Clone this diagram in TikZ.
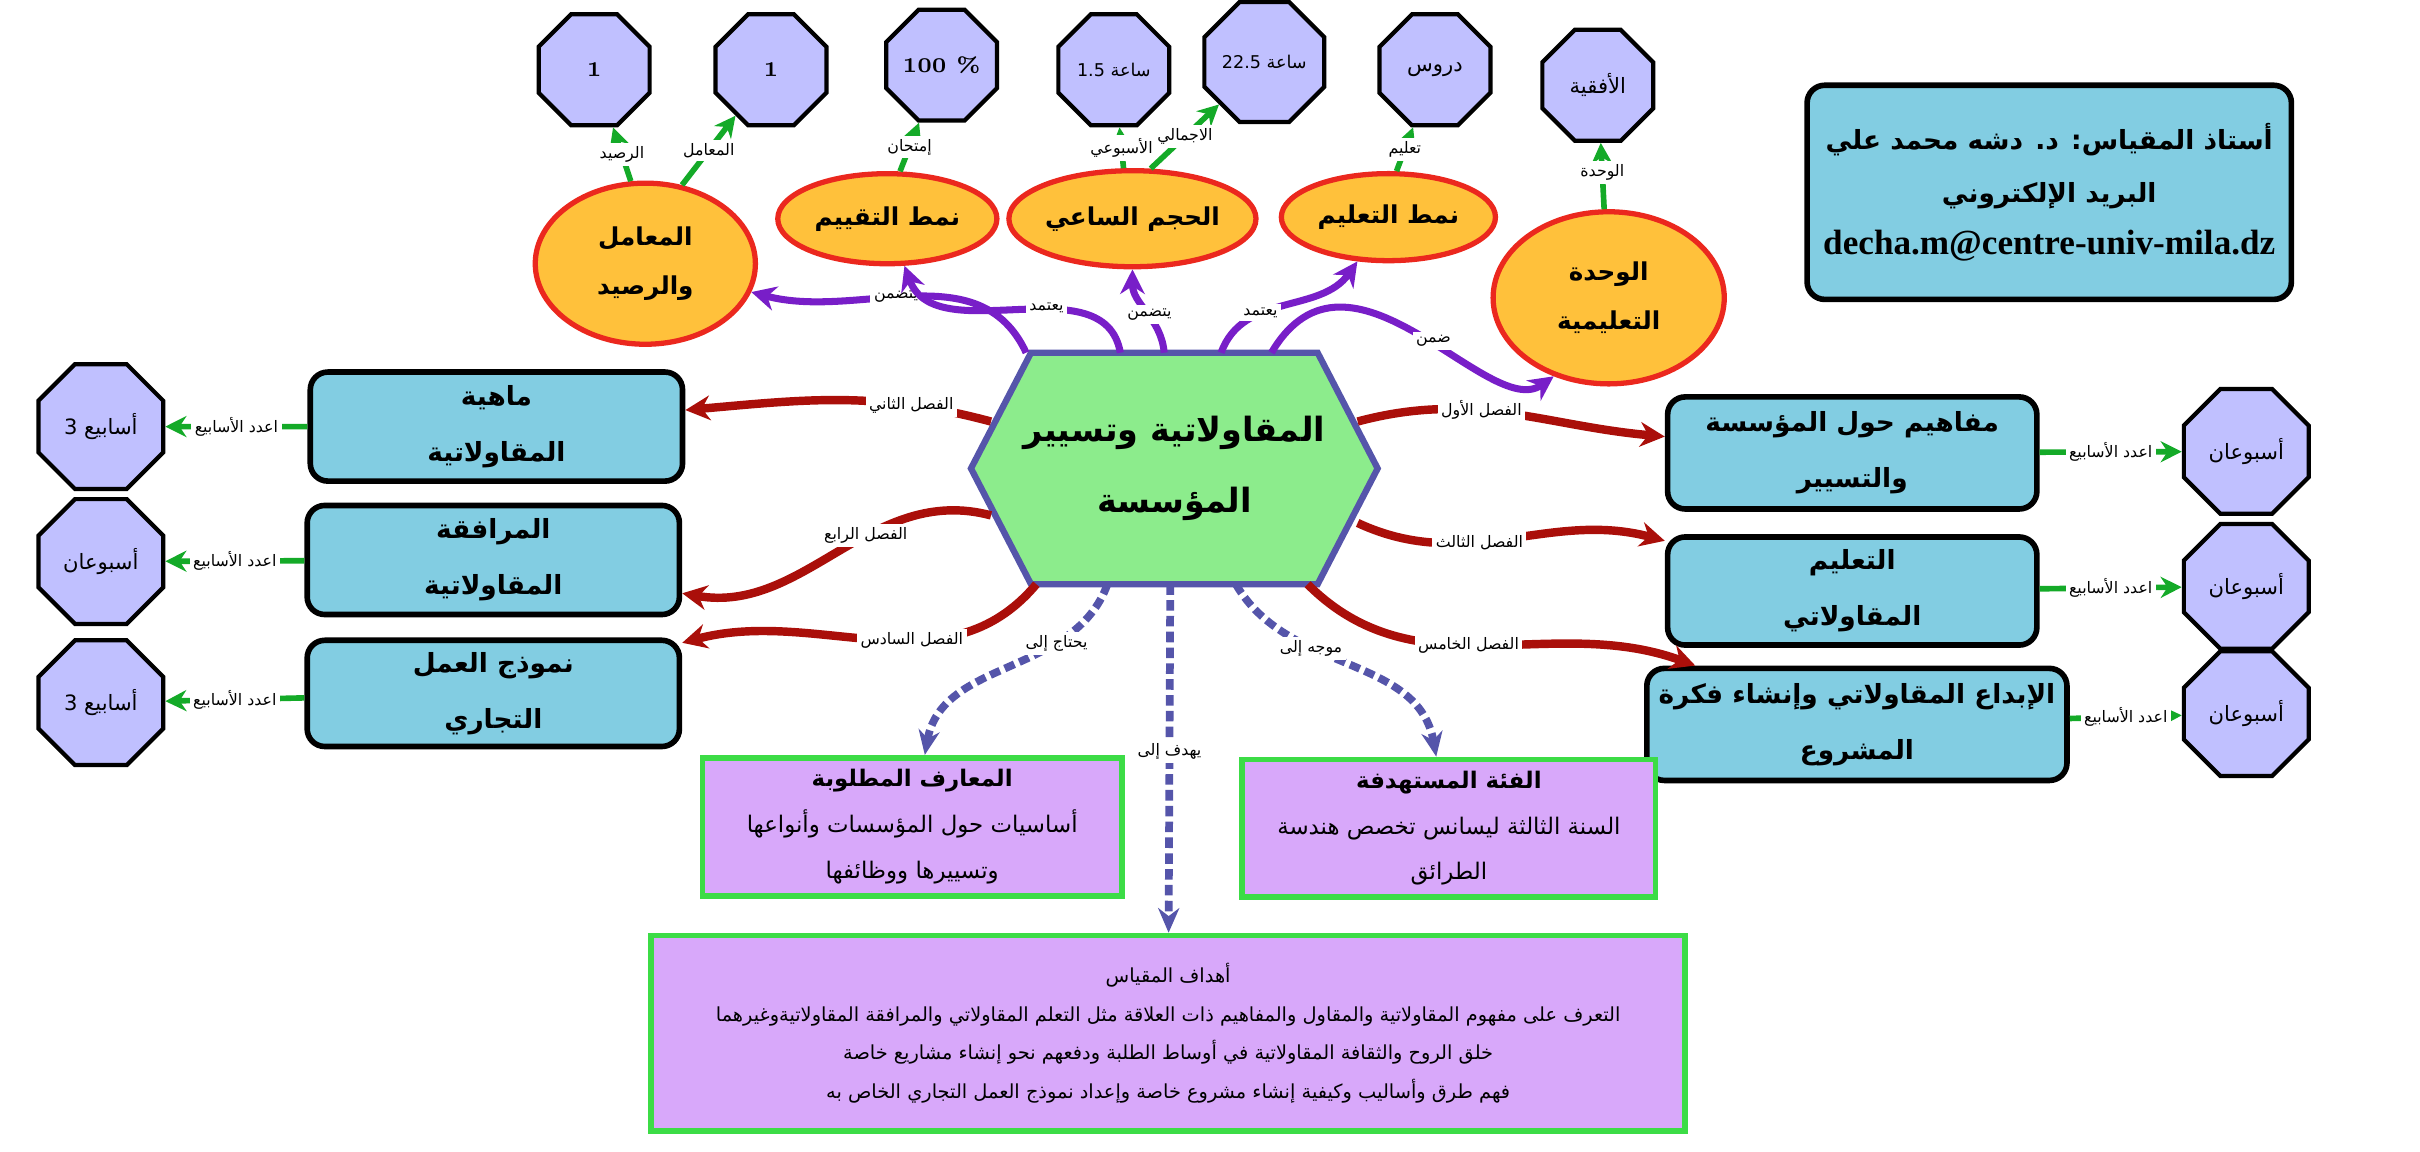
\documentclass[tikz,border=0pt]{standalone}
\usepackage{fontspec}
\usetikzlibrary{arrows.meta,shapes.geometric,backgrounds}
\newfontfamily\arabicfont[Script=Arabic]{DejaVu Sans}
\newfontfamily\mailfont{Liberation Serif}
\TeXXeTstate=1
\newcommand{\ar}[1]{{\arabicfont\beginR #1\endR}}
\definecolor{skybox}{RGB}{130,205,226}
\definecolor{octfill}{RGB}{192,192,255}
\definecolor{ellfill}{RGB}{255,193,59}
\definecolor{ellline}{RGB}{235,40,30}
\definecolor{hexfill}{RGB}{140,236,140}
\definecolor{hexline}{RGB}{85,85,170}
\definecolor{purfill}{RGB}{216,168,250}
\definecolor{purline}{RGB}{60,220,70}
\definecolor{arrowred}{RGB}{170,15,10}
\definecolor{arrowviolet}{RGB}{120,30,200}
\definecolor{arrowgreen}{RGB}{20,170,40}

\begin{document}
\begin{tikzpicture}[x=0.01551cm,y=0.01551cm,
        oct/.style={regular polygon,regular polygon sides=8,draw=black,line width=1.2pt,fill=octfill,inner sep=0pt,font=\fontsize{6}{8}\selectfont},
        ell/.style={ellipse,draw=ellline,line width=1.5pt,fill=ellfill,align=center,inner sep=0pt,font=\fontsize{7}{14}\selectfont\bfseries},
        chap/.style={rectangle,rounded corners=5pt,draw=black,line width=1.6pt,fill=skybox,align=center,font=\fontsize{7.5}{16}\selectfont\bfseries},
        goal/.style={rectangle,draw=purline,line width=1.6pt,fill=purfill,align=center,font=\fontsize{6.5}{13}\selectfont},
        lbl/.style={fill=white,text=black,inner sep=1pt,font=\fontsize{4.5}{5}\selectfont},
        red arrow/.style={-{Stealth[length=7pt,width=7pt]},line width=2.4pt,arrowred},
        violet arrow/.style={-{Stealth[length=7pt,width=7pt]},line width=2pt,arrowviolet},
        green arrow/.style={-{Stealth[length=6pt,width=6pt]},line width=1.6pt,arrowgreen},
        blue arrow/.style={-{Stealth[length=7pt,width=6pt]},line width=2.2pt,hexline,dashed,dash pattern=on 3pt off 1.5pt}]

    \useasboundingbox (0,0) rectangle (1560,742);

    % centre
    \node[minimum width=4.05cm,minimum height=2.3cm,align=center,font=\fontsize{9.5}{20}\selectfont\bfseries] (core) at (757,440)
          {\ar{المقاولاتية وتسيير}\\\ar{المؤسسة}};
    \begin{scope}[on background layer]
    \draw[fill=hexfill,draw=hexline,line width=1.8pt] (core.west) -- ([xshift=0.6cm]core.north west) -- ([xshift=-0.6cm]core.north east)
        -- (core.east) -- ([xshift=-0.6cm]core.south east) -- ([xshift=0.6cm]core.south west) -- cycle;
    \end{scope}

    % top
    \node[ell,minimum width=2.2cm,minimum height=1.61cm] (M) at (416,572) {\ar{المعامل}\\\ar{والرصيد}};
    \node[ell,minimum width=2.19cm,minimum height=0.9cm] (T) at (572,601) {\ar{نمط التقييم}};
    \node[ell,minimum width=1.95cm,minimum height=0.96cm] (H) at (730,601) {\ar{الحجم الساعي}};
    \node[ell,minimum width=2.14cm,minimum height=0.87cm] (E) at (895,602) {\ar{نمط التعليم}};
    \node[ell,minimum width=2.31cm,minimum height=1.72cm] (W) at (1037,550) {\ar{الوحدة}\\\ar{التعليمية}};

    \node[oct,minimum size=1.2cm] (o1) at (383,697) {\textbf{1}};
    \node[oct,minimum size=1.2cm] (o2) at (497,697) {\textbf{1}};
    \node[oct,minimum size=1.2cm] (o3) at (607,700) {\textbf{100 \%}};
    \node[oct,minimum size=1.2cm,font=\fontsize{5}{6}\selectfont] (o4) at (718,697) {\ar{ساعة \beginL 1.5\endL}};
    \node[oct,minimum size=1.2cm,font=\fontsize{5}{6}\selectfont] (o5) at (815,702) {\ar{ساعة \beginL 22.5\endL}};
    \node[oct,minimum size=1.2cm] (o6) at (925,697) {\ar{دروس}};
    \node[oct,minimum size=1.2cm] (o7) at (1030,687) {\ar{الأفقية}};

    % sides
    \node[chap,minimum width=3.72cm,minimum height=1.09cm] (L1) at (320,467) {\ar{ماهية}\\\ar{المقاولاتية}};
    \node[chap,minimum width=3.72cm,minimum height=1.09cm] (L2) at (318,381) {\ar{المرافقة}\\\ar{المقاولاتية}};
    \node[chap,minimum width=3.72cm,minimum height=1.05cm] (L3) at (318,295) {\ar{نموذج العمل}\\\ar{التجاري}};
    \node[chap,minimum width=3.69cm,minimum height=1.12cm] (R1) at (1194,450) {\ar{مفاهيم حول المؤسسة}\\\ar{والتسيير}};
    \node[chap,minimum width=3.69cm,minimum height=1.08cm] (R2) at (1194,361) {\ar{التعليم}\\\ar{المقاولاتي}};
    \node[chap,minimum width=3.69cm,minimum height=1.12cm] (R3) at (1197,275) {\ar{الإبداع المقاولاتي وإنشاء فكرة}\\\ar{المشروع}};

    \node[oct,minimum size=1.35cm] (p1) at (65,467) {\ar{أسابيع 3}};
    \node[oct,minimum size=1.35cm] (p2) at (65,380) {\ar{أسبوعان}};
    \node[oct,minimum size=1.35cm] (p3) at (65,289) {\ar{أسابيع 3}};
    \node[oct,minimum size=1.35cm] (q1) at (1448,451) {\ar{أسبوعان}};
    \node[oct,minimum size=1.35cm] (q2) at (1448,364) {\ar{أسبوعان}};
    \node[oct,minimum size=1.35cm] (q3) at (1448,282) {\ar{أسبوعان}};

    % info
    \node[chap,minimum width=4.84cm,minimum height=2.14cm,font=\fontsize{7.5}{15}\selectfont\bfseries] (info) at (1321,618)
        {\ar{أستاذ المقياس: د. دشه محمد علي}\\\ar{البريد الإلكتروني}\\{\mailfont\fontsize{10}{15}\selectfont decha.m@centre-univ-mila.dz}};

    % bottom
    \node[goal,minimum width=4.19cm,minimum height=1.38cm] (K) at (588,209) {\textbf{\ar{المعارف المطلوبة}}\\\ar{أساسيات حول المؤسسات وأنواعها}\\\ar{وتسييرها  ووظائفها}};
    \node[goal,minimum width=4.13cm,minimum height=1.36cm] (F) at (934,208) {\textbf{\ar{الفئة المستهدفة}}\\\ar{السنة الثالثة ليسانس تخصص هندسة}\\\ar{الطرائق}};
    \node[goal,minimum width=10.33cm,minimum height=1.95cm,font=\fontsize{5.5}{11}\selectfont] (G) at (753,76)
        {\ar{أهداف المقياس}\\\ar{التعرف على مفهوم المقاولاتية والمقاول والمفاهيم ذات العلاقة مثل التعلم المقاولاتي والمرافقة المقاولاتيةوغيرهما}\\
         \ar{خلق الروح والثقافة المقاولاتية في أوساط الطلبة ودفعهم نحو إنشاء مشاريع خاصة}\\\ar{فهم طرق وأساليب وكيفية إنشاء مشروع خاصة وإعداد نموذج العمل التجاري الخاص به}};

    \path[violet arrow]
    (core.142) edge [out=115,in=-15] node[lbl,pos=0.55] {\ar{يتضمن}} (M)
    (core.115) edge [out=100,in=-70] node[lbl,pos=0.4] {\ar{يعتمد}} (T)
    (core.95) edge [out=95,in=-90] node[lbl,pos=0.45] {\ar{يتضمن}} (H)
    (core.68) edge [out=70,in=-125] node[lbl,pos=0.35] {\ar{يعتمد}} (E);
    \draw[violet arrow] (core.50) .. controls (870,600) and (960,470) .. node[lbl,pos=0.55] {\ar{ضمن}} (W.235);

    \path[red arrow]
    ([xshift=-0.2cm]core.13) edge [out=15,in=175] node[lbl,pos=0.4] {\ar{الفصل الأول}} (R1)
    ([xshift=-0.2cm]core.-15) edge [out=-25,in=165] node[lbl,pos=0.4] {\ar{الفصل الثالث}} (R2)
    ([xshift=-0.45cm]core.-33) edge [out=-45,in=160] node[lbl,pos=0.45] {\ar{الفصل الخامس}} (R3)
    ([xshift=0.2cm]core.167) edge [out=165,in=5] node[lbl,pos=0.25] {\ar{الفصل الثاني}} (L1)
    ([xshift=0.2cm]core.-167) edge [out=165,in=-10] node[lbl,pos=0.4] {\ar{الفصل الرابع}} (L2)
    (core.-140) edge [out=230,in=15] node[lbl,pos=0.4] {\ar{الفصل السادس}} (L3);

    \path[blue arrow]
    (core.-120) edge [out=-110,in=80] node[lbl,pos=0.3] {\ar{يحتاج إلى}} (K)
    (core.-92) edge node[lbl,pos=0.48] {\ar{يهدف إلى}} (G)
    (core.-62) edge [out=-60,in=100] node[lbl,pos=0.35] {\ar{موجه إلى}} (F);

    \path[green arrow]
    (M.100) edge node[lbl] {\ar{الرصيد}} (o1)
    (M.65) edge node[lbl] {\ar{المعامل}} (o2)
    (T.75) edge node[lbl] {\ar{إمتحان}} (o3)
    (H.100) edge node[lbl] {\ar{الأسبوعي}} (o4)
    (H.70) edge node[lbl] {\ar{الاجمالي}} (o5)
    (E.80) edge node[lbl] {\ar{تعليم}} (o6)
    (W) edge node[lbl,pos=0.55] {\ar{الوحدة}} (o7)
    (L1) edge node[lbl] {\ar{اعدد الأسابيع}} (p1)
    (L2) edge node[lbl] {\ar{اعدد الأسابيع}} (p2)
    (L3) edge node[lbl] {\ar{اعدد الأسابيع}} (p3)
    (R1) edge node[lbl] {\ar{اعدد الأسابيع}} (q1)
    (R2) edge node[lbl] {\ar{اعدد الأسابيع}} (q2)
    (R3) edge node[lbl] {\ar{اعدد الأسابيع}} (q3);

\end{tikzpicture}
\end{document}
